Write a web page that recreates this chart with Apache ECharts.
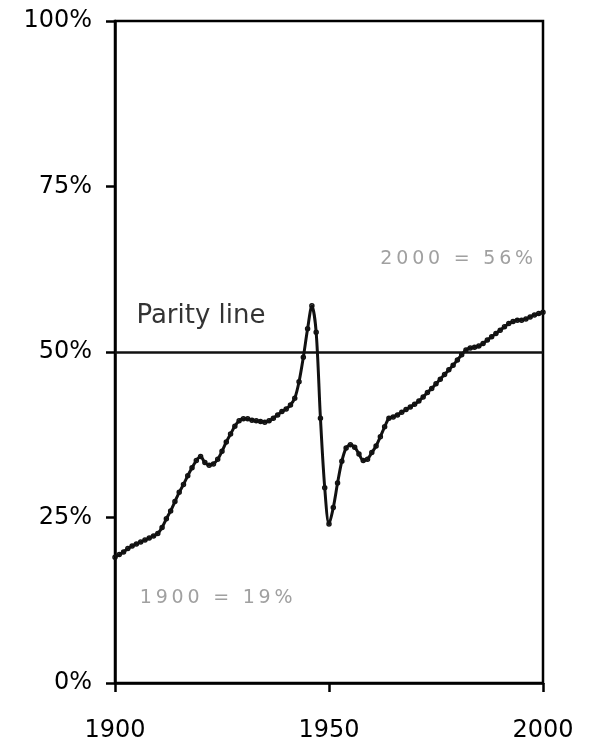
<!DOCTYPE html>
<html>
<head>
<meta charset="utf-8">
<script src="https://cdn.jsdelivr.net/npm/echarts@6/dist/echarts.min.js"></script>
<style>
  html, body { margin: 0; padding: 0; background: #fff; }
  #chart { width: 592px; height: 745px; }
</style>
</head>
<body>
<div id="chart"></div>
<script>
const years = [];
for (let y = 1900; y <= 2000; y++) years.push(y);

const shares = [
  19.0, 19.4, 19.8, 20.3, 20.7, 21.0, 21.3, 21.6, 21.9, 22.2,
  22.6, 23.5, 24.8, 26.0, 27.4, 28.8, 30.0, 31.3, 32.5, 33.6,
  34.2, 33.3, 32.9, 33.1, 33.8, 35.0, 36.4, 37.6, 38.8, 39.6,
  39.9, 39.9, 39.7, 39.6, 39.5, 39.4, 39.6, 40.0, 40.5, 41.0,
  41.4, 42.0, 43.0, 45.5, 49.2, 53.5, 57.0, 53.0, 40.0, 29.5,
  24.0, 26.5, 30.2, 33.5, 35.5, 36.0, 35.6, 34.6, 33.6, 33.8,
  34.8, 35.8, 37.2, 38.7, 40.0, 40.2, 40.5, 40.9, 41.3, 41.7,
  42.1, 42.6, 43.2, 43.9, 44.5, 45.2, 45.9, 46.6, 47.3, 48.0,
  48.8, 49.6, 50.3, 50.6, 50.7, 50.9, 51.3, 51.8, 52.3, 52.8,
  53.3, 53.8, 54.3, 54.6, 54.8, 54.8, 55.0, 55.3, 55.6, 55.8,
  56.0
];

const xTicks = [1900, 1950, 2000];
const yTicks = [0, 25, 50, 75, 100];
const parity = 50;
const notes = ["1900 = 19%", "2000 = 56%"];
const notePos = [[1905.8, 12.8], [1962, 64]];

// old typewriter-ish wide spacing
const spread = (s, gap) => s.split("").join(gap);

const font = "'DejaVu Sans', sans-serif";
const chart = echarts.init(document.getElementById("chart"));

chart.setOption({
  animation: false,
  backgroundColor: "#fff",
  grid: {
    left: 115, right: 49, top: 21, bottom: 62,
    show: true, borderColor: "#000", borderWidth: 2.5
  },
  xAxis: {
    type: "value",
    min: 1900, max: 2000, interval: 50,
    axisLine: { show: true, lineStyle: { color: "#000", width: 2.5 } },
    axisTick: { show: true, length: 9, lineStyle: { color: "#000", width: 2.5 } },
    axisLabel: {
      color: "#000", fontFamily: font, fontSize: 24, margin: 36,
      formatter: (v) => xTicks.includes(v) ? String(v) : ""
    },
    splitLine: { show: false }
  },
  yAxis: {
    type: "value",
    min: 0, max: 100, interval: 25,
    axisLine: { show: true, lineStyle: { color: "#000", width: 2.5 } },
    axisTick: { show: true, length: 9, lineStyle: { color: "#000", width: 2.5 } },
    axisLabel: {
      color: "#000", fontFamily: font, fontSize: 24, margin: 23,
      formatter: (v) => yTicks.includes(v) ? v + "%" : ""
    },
    splitLine: { show: false }
  },
  series: [
    {
      type: "line",
      data: years.map((y, i) => [y, shares[i]]),
      smooth: 0.3,
      symbol: "circle",
      symbolSize: 4,
      itemStyle: { color: "rgba(0,0,0,0)", borderColor: "#111", borderWidth: 1.5 },
      lineStyle: { color: "#111", width: 3 },
      z: 3,
      markLine: {
        silent: true,
        symbol: "none",
        label: { show: false },
        lineStyle: { color: "#111", width: 2.5, type: "solid" },
        data: [{ yAxis: parity }]
      }
    },
    {
      type: "scatter",
      data: [[1905, parity]],
      symbolSize: 0,
      label: {
        show: true,
        position: "right",
        offset: [-5, -36],
        formatter: "Parity line",
        color: "#000",
        fontFamily: font,
        fontSize: 26
      }
    },
    {
      type: "scatter",
      data: notePos,
      symbolSize: 0,
      label: {
        show: true,
        position: "right",
        distance: 0,
        formatter: (p) => spread(notes[p.dataIndex], "\u2009"),
        color: "#888",
        fontFamily: font,
        fontSize: 19
      }
    }
  ]
});
</script>
</body>
</html>
